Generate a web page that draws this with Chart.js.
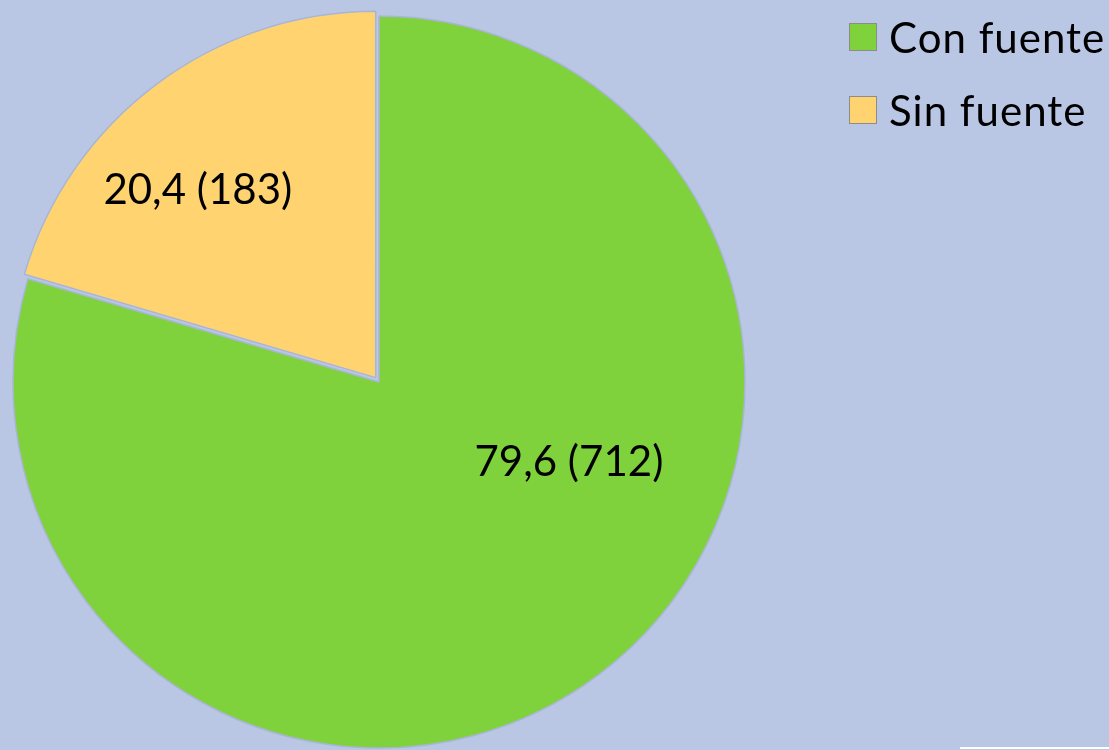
<!DOCTYPE html>
<html>
<head>
<meta charset="utf-8">
<script src="https://cdn.jsdelivr.net/npm/chart.js@4/dist/chart.umd.min.js"></script>
<style>
  html, body { margin: 0; padding: 0; background: #b9c7e4; }
  #wrap { position: relative; width: 1109px; height: 750px; overflow: hidden; }
  #wrap canvas { position: absolute; left: 0; top: 0; }
  #legend { position: absolute; left: 849px; top: 23px; font-family: Lato, sans-serif; font-size: 42px; letter-spacing: 1px; color: #000; }
  #legend .item { display: flex; align-items: center; height: 28px; margin-bottom: 45px; white-space: nowrap; }
  #legend .sw { width: 26px; height: 26px; border: 1px solid #8c8c8c; margin-right: 12px; flex: none; }
  #edge { position: absolute; left: 960px; top: 747px; width: 149px; height: 2px; background: #ffffff; }
</style>
</head>
<body>
<div id="wrap">
  <canvas id="chart" width="1109" height="750"></canvas>
  <div id="legend"></div>
  <div id="edge"></div>
</div>
<script>
  // values
  const labels = ["Con fuente", "Sin fuente"];
  const counts = [712, 183];
  const percents = ["79,6", "20,4"];
  const colors = ["#80d23d", "#ffd470"];

  const FONT = "Lato, sans-serif";

  // where each value label sits: fraction along the arc, fraction of the radius
  const labelPlace = [
    { along: 0.394, out: 0.563 },
    { along: 0.41, out: 0.72 },
  ];

  const sliceLabels = {
    id: "sliceLabels",
    afterDatasetsDraw(chart) {
      const ctx = chart.ctx;
      const meta = chart.getDatasetMeta(0);
      ctx.save();
      ctx.font = "42px " + FONT;
      ctx.fillStyle = "#000";
      ctx.textAlign = "center";
      ctx.textBaseline = "middle";
      meta.data.forEach((arc, i) => {
        const p = arc.getProps(["x", "y", "startAngle", "endAngle", "outerRadius"], true);
        const a = p.startAngle + (p.endAngle - p.startAngle) * labelPlace[i].along;
        const r = p.outerRadius * labelPlace[i].out;
        ctx.fillText(percents[i] + " (" + counts[i] + ")", p.x + Math.cos(a) * r, p.y + Math.sin(a) * r);
      });
      ctx.restore();
    },
  };

  new Chart(document.getElementById("chart"), {
    type: "pie",
    data: {
      labels,
      datasets: [{
        data: counts,
        backgroundColor: colors,
        borderColor: "#a9b5d6",
        borderWidth: 1.5,
        offset: [0, 22],
        radius: 366,
        clip: false,
      }],
    },
    options: {
      responsive: false,
      animation: false,
      layout: { padding: { top: 14, bottom: 0, left: 0, right: 351 } },
      plugins: { legend: { display: false }, tooltip: { enabled: false } },
    },
    plugins: [sliceLabels],
  });

  const legend = document.getElementById("legend");
  labels.forEach((t, i) => {
    const row = document.createElement("div");
    row.className = "item";
    row.innerHTML = '<span class="sw" style="background:' + colors[i] + '"></span><span>' + t + "</span>";
    legend.appendChild(row);
  });
</script>
</body>
</html>
